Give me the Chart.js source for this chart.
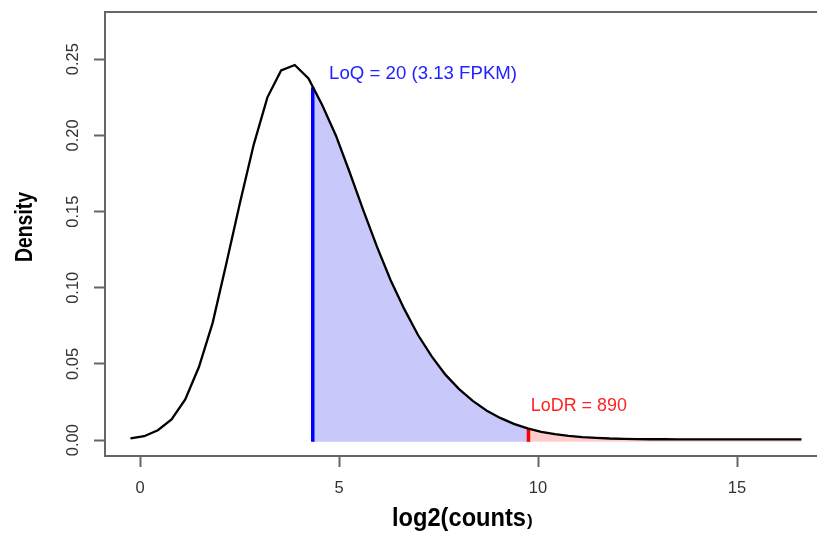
<!DOCTYPE html>
<html>
<head>
<meta charset="utf-8">
<script src="https://cdn.jsdelivr.net/npm/chart.js@4/dist/chart.umd.min.js"></script>
<style>
  html, body { margin: 0; padding: 0; background: #fff; }
  #wrap { width: 817px; height: 534px; position: relative; }
</style>
</head>
<body>
<div id="wrap"><canvas id="densityChart"></canvas></div>
<script>
// density of log2(counts)
const logCounts = [
  -0.240, 0.104, 0.448, 0.792, 1.136, 1.480, 1.825, 2.169, 2.513, 2.857,
  3.201, 3.545, 3.889, 4.233, 4.577, 4.921, 5.265, 5.609, 5.953, 6.297,
  6.641, 6.985, 7.329, 7.673, 8.017, 8.361, 8.705, 9.049, 9.393, 9.737,
  10.081, 10.425, 10.769, 11.113, 11.457, 11.801, 12.145, 12.489, 12.833, 13.177,
  13.521, 13.865, 14.209, 14.553, 14.897, 15.241, 15.585, 15.929, 16.273, 16.620
];
const density = [
  0.0011, 0.0026, 0.0065, 0.0136, 0.0267, 0.0480, 0.0770, 0.1160, 0.1560, 0.1940,
  0.2250, 0.2426, 0.2462, 0.2374, 0.2200, 0.2000, 0.1760, 0.1510, 0.1270, 0.1050,
  0.0860, 0.0690, 0.0550, 0.0430, 0.0335, 0.0258, 0.0195, 0.0146, 0.0107, 0.0077,
  0.0055, 0.0039, 0.0028, 0.0020, 0.0015, 0.0011, 0.0009, 0.0007, 0.0006, 0.0006,
  0.0005, 0.0005, 0.0005, 0.0005, 0.0005, 0.0005, 0.0005, 0.0005, 0.0005, 0.0005
];

const LOQ_X = 4.34, LOQ_TOP = 0.2316;     // log2(20)
const LODR_X = 9.76, LODR_TOP = 0.0075;   // log2(890)
const FILL_BASE = -0.0011;

const xTicks = [0, 5, 10, 15];
const yTicks = [0, 0.05, 0.10, 0.15, 0.20, 0.25];
const LOQ_LABEL = { text: 'LoQ = 20 (3.13 FPKM)', x: 4.75, y: 0.2403, width: 188, color: '#2222ff' };
const LODR_LABEL = { text: 'LoDR = 890', x: 9.82, y: 0.0225, width: 96, color: '#ff2222' };

const FONT = "'Liberation Sans', Arial, sans-serif";

const curve = logCounts.map((x, i) => ({ x, y: density[i] }));
const blueArea = [{ x: LOQ_X, y: LOQ_TOP }]
  .concat(curve.filter(p => p.x > LOQ_X && p.x < LODR_X))
  .concat([{ x: LODR_X, y: LODR_TOP }]);
const pinkArea = [{ x: LODR_X, y: LODR_TOP }].concat(curve.filter(p => p.x > LODR_X));

const decorations = {
  id: 'decorations',
  afterDraw(chart) {
    const { ctx, chartArea: a, scales: { x, y } } = chart;
    // the box is cut off on the right in the original: keep that edge clean
    ctx.save();
    ctx.fillStyle = '#fff';
    ctx.fillRect(a.right - 3, a.top + 2, 3, a.bottom - a.top - 3);
    // top frame line
    ctx.strokeStyle = '#666';
    ctx.lineWidth = 2;
    ctx.beginPath();
    ctx.moveTo(a.left - 1, a.top);
    ctx.lineTo(chart.width, a.top);
    ctx.stroke();
    ctx.restore();

    // rotated y tick labels (R style)
    ctx.save();
    ctx.fillStyle = '#333';
    ctx.font = '16.5px ' + FONT;
    ctx.textAlign = 'center';
    ctx.textBaseline = 'middle';
    yTicks.forEach(v => {
      ctx.save();
      ctx.translate(73, y.getPixelForValue(v));
      ctx.rotate(-Math.PI / 2);
      ctx.fillText(v.toFixed(2), 0, 0);
      ctx.restore();
    });
    ctx.restore();

    // axis titles
    ctx.save();
    ctx.fillStyle = '#000';
    ctx.textAlign = 'center';
    ctx.textBaseline = 'middle';
    ctx.translate(26, 227);
    ctx.rotate(-Math.PI / 2);
    ctx.font = 'bold 23px ' + FONT;
    ctx.fillText('Density', 0, 0, 70);
    ctx.restore();

    ctx.save();
    ctx.fillStyle = '#000';
    ctx.textAlign = 'left';
    ctx.textBaseline = 'alphabetic';
    ctx.font = 'bold 25px ' + FONT;
    ctx.fillText('log2(counts', 392, 526, 134);
    ctx.font = 'bold 17px ' + FONT;
    ctx.fillText(')', 527, 526);
    ctx.restore();

    // annotations
    [LOQ_LABEL, LODR_LABEL].forEach(l => {
      ctx.save();
      ctx.fillStyle = l.color;
      ctx.font = '19px ' + FONT;
      ctx.textAlign = 'left';
      ctx.textBaseline = 'middle';
      ctx.fillText(l.text, x.getPixelForValue(l.x), y.getPixelForValue(l.y), l.width);
      ctx.restore();
    });
  }
};

new Chart(document.getElementById('densityChart'), {
  type: 'scatter',
  data: {
    datasets: [
      { data: curve, showLine: true, borderColor: '#000', borderWidth: 2.3, pointRadius: 0, tension: 0, fill: false, order: 0 },
      { data: [{ x: LOQ_X, y: FILL_BASE }, { x: LOQ_X, y: LOQ_TOP }], showLine: true, borderColor: '#0000ff', borderWidth: 3.5, pointRadius: 0, order: 1 },
      { data: [{ x: LODR_X, y: FILL_BASE }, { x: LODR_X, y: LODR_TOP }], showLine: true, borderColor: '#ff0000', borderWidth: 3.5, pointRadius: 0, order: 1 },
      { data: blueArea, showLine: true, borderWidth: 0, borderColor: 'rgba(0,0,0,0)', backgroundColor: '#c8c8fa', pointRadius: 0, fill: { value: FILL_BASE }, order: 2 },
      { data: pinkArea, showLine: true, borderWidth: 0, borderColor: 'rgba(0,0,0,0)', backgroundColor: '#ffcccc', pointRadius: 0, fill: { value: FILL_BASE }, order: 2 },
    ]
  },
  options: {
    responsive: true, maintainAspectRatio: false, animation: false,
    layout: { padding: { top: 12, right: 0, left: 0, bottom: 0 } },
    plugins: { legend: { display: false }, tooltip: { enabled: false } },
    scales: {
      x: {
        type: 'linear', min: -0.88, max: 17.01,
        afterFit: s => { s.height = 78; },
        afterBuildTicks: s => { s.ticks = xTicks.map(v => ({ value: v })); },
        border: { display: true, color: '#666', width: 2 },
        grid: { display: true, drawOnChartArea: false, drawTicks: true, tickLength: 11, tickColor: '#666', tickWidth: 2 },
        ticks: { color: '#333', font: { family: FONT, size: 16.5 }, padding: 12, maxRotation: 0 },
      },
      y: {
        type: 'linear', min: -0.0104, max: 0.281,
        afterFit: s => { s.width = 105; },
        afterBuildTicks: s => { s.ticks = yTicks.map(v => ({ value: v })); },
        border: { display: true, color: '#666', width: 2 },
        grid: { display: true, drawOnChartArea: false, drawTicks: true, tickLength: 11, tickColor: '#666', tickWidth: 2 },
        ticks: { display: false },
      },
    },
  },
  plugins: [decorations],
});
</script>
</body>
</html>
